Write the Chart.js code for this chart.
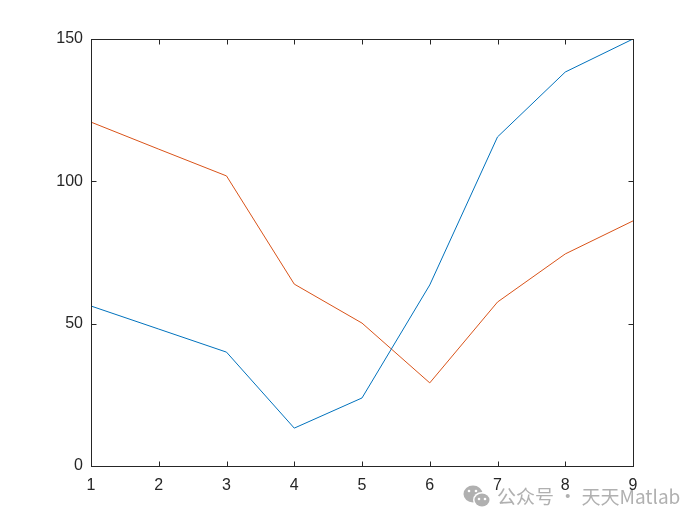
<!DOCTYPE html>
<html>
<head>
<meta charset="utf-8">
<script src="https://cdn.jsdelivr.net/npm/chart.js@4/dist/chart.umd.min.js"></script>
<style>
  html, body { margin: 0; padding: 0; background: #fff; }
  #wrap { position: relative; width: 700px; height: 525px; }
  #mark {
    position: absolute; left: 497px; top: 483px;
    font-family: "Noto Sans CJK SC", "Noto Sans", sans-serif;
    font-size: 19px; color: rgba(150, 150, 150, 0.75); white-space: nowrap;
    line-height: 26px;
  }
</style>
</head>
<body>
<div id="wrap">
  <canvas id="myChart" width="700" height="525"></canvas>
  <div id="mark">公众号 · 天天Matlab</div>
</div>
<script>
// values
var xValues = [1, 2, 3, 4, 5, 6, 7, 8, 9];
var blueValues = [56.2, 48.1, 40.0, 13.3, 23.9, 63.6, 115.6, 138.4, 150];
var orangeValues = [120.8, 111.3, 101.9, 63.9, 50.2, 29.2, 57.6, 74.5, 86.1];
var yTicks = [0, 50, 100, 150];

function toPoints(vals)
{
    return vals.map(function (v, i) { return { x: xValues[i], y: v }; });
}

// MATLAB style box with inward ticks on all four sides
var boxPlugin = {
    id: 'box',
    afterDatasetsDraw: function (chart) {
        var ctx = chart.ctx;
        var a = chart.chartArea;
        var xs = chart.scales.x, ys = chart.scales.y;
        var l = Math.round(a.left) + 0.5, r = Math.round(a.right) + 0.5;
        var t = Math.round(a.top) + 0.5, b = Math.round(a.bottom) + 0.5;
        ctx.save();
        ctx.strokeStyle = '#262626';
        ctx.lineWidth = 1;
        ctx.strokeRect(l, t, r - l, b - t);
        ctx.beginPath();
        xValues.forEach(function (v) {
            var px = Math.round(xs.getPixelForValue(v)) + 0.5;
            ctx.moveTo(px, b); ctx.lineTo(px, b - 5);
            ctx.moveTo(px, t); ctx.lineTo(px, t + 5);
        });
        yTicks.forEach(function (v) {
            var py = Math.round(ys.getPixelForValue(v)) + 0.5;
            ctx.moveTo(l, py); ctx.lineTo(l + 5, py);
            ctx.moveTo(r, py); ctx.lineTo(r - 5, py);
        });
        ctx.stroke();

        // wechat icon next to the watermark
        ctx.fillStyle = 'rgba(150,150,150,0.75)';
        ctx.beginPath();
        ctx.ellipse(473, 494, 9.5, 8.5, 0, 0, Math.PI * 2);
        ctx.fill();
        ctx.fillStyle = '#fff';
        ctx.beginPath();
        ctx.ellipse(482, 500, 9, 8, 0, 0, Math.PI * 2);
        ctx.fill();
        ctx.fillStyle = 'rgba(150,150,150,0.75)';
        ctx.beginPath();
        ctx.ellipse(482, 500, 7.5, 6.5, 0, 0, Math.PI * 2);
        ctx.fill();
        ctx.fillStyle = '#fff';
        [[469, 491], [476, 491], [479, 499], [485, 499]].forEach(function (p) {
            ctx.beginPath();
            ctx.arc(p[0], p[1], 1.3, 0, Math.PI * 2);
            ctx.fill();
        });
        ctx.restore();
    }
};

var ctx = document.getElementById('myChart').getContext('2d');
var chart = new Chart(ctx, {
    type: 'line',
    data: {
        datasets: [{
            data: toPoints(blueValues),
            borderColor: '#0072BD',
            borderWidth: 1,
            pointRadius: 0,
            tension: 0,
            fill: false
        }, {
            data: toPoints(orangeValues),
            borderColor: '#D95319',
            borderWidth: 1,
            pointRadius: 0,
            tension: 0,
            fill: false
        }]
    },
    options: {
        responsive: false,
        animation: false,
        layout: { padding: { left: 0, right: 67, top: 39, bottom: 0 } },
        plugins: {
            legend: { display: false },
            tooltip: { enabled: false }
        },
        scales: {
            x: {
                type: 'linear',
                min: 1, max: 9,
                grid: { display: false, drawTicks: false },
                border: { display: false },
                afterFit: function (s) { s.height = 59; },
                ticks: {
                    stepSize: 1,
                    padding: 10,
                    maxRotation: 0,
                    color: '#262626',
                    font: { family: 'Liberation Sans', size: 16 }
                }
            },
            y: {
                min: 0, max: 150,
                grid: { display: false, drawTicks: false },
                border: { display: false },
                afterFit: function (s) { s.width = 91; },
                afterBuildTicks: function (s) {
                    s.ticks = yTicks.map(function (v) { return { value: v }; });
                },
                ticks: {
                    padding: 8,
                    color: '#262626',
                    font: { family: 'Liberation Sans', size: 16 }
                }
            }
        }
    },
    plugins: [boxPlugin]
});
</script>
</body>
</html>
